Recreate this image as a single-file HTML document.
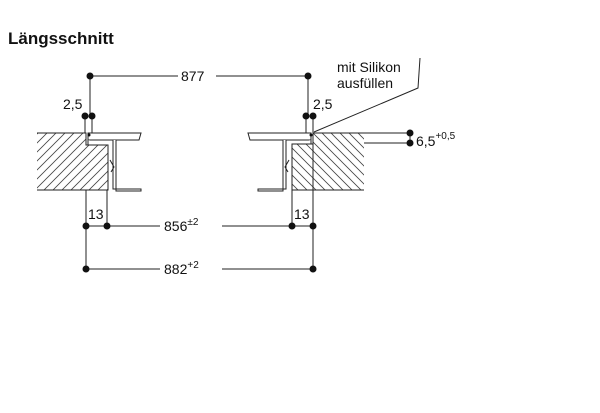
<!DOCTYPE html>
<html><head><style>body{margin:0;background:#fff}svg{display:block}text{font-family:"Liberation Sans",sans-serif;fill:#111}</style></head><body>
<svg width="600" height="413" viewBox="0 0 600 413" xmlns="http://www.w3.org/2000/svg">
<defs>
<pattern id="hl" width="9" height="9" patternUnits="userSpaceOnUse"><path d="M0 9 L9 0 M-2 2 L2 -2 M7 11 L11 7" stroke="#444" stroke-width="0.8"/></pattern>
<pattern id="hr" width="9" height="9" patternUnits="userSpaceOnUse"><path d="M0 0 L9 9 M-2 7 L2 11 M7 -2 L11 2" stroke="#444" stroke-width="0.8"/></pattern>
</defs>
<text x="8" y="44" font-size="17" font-weight="bold">Längsschnitt</text>
<g stroke="#222" stroke-width="1" fill="none">
<path d="M37 133 H86 V145 H108 V190 H37" fill="url(#hl)"/>
<path d="M37 133 H86 V145 H108 V190 H37"/>
<path d="M88 133 H141 L139 140 H88 Z" fill="#fff"/>
<path d="M88 140 V145 H108 M113 140 V189 H141 V191 H116 V140" fill="#fff"/>
<path d="M110 160 L114 167 L111 172"/>
<path d="M364 133 H313 V144 H292 V190 H364" fill="url(#hr)"/>
<path d="M364 133 H313 V144 H292 V190 H364"/>
<path d="M311 133 H248 L250 140 H311 Z" fill="#fff"/>
<path d="M311 140 V144 H292 M286 140 V189 H258 V191 H283 V140" fill="#fff"/>
<path d="M289 160 L285 167 L288 172"/>
<path d="M90 76 H178 M216 76 H308 M90 76 V116 M308 76 V116 M85 116 V133 M92 116 V133 M306 116 V133 M313 116 V133"/>
<path d="M86 190 V269 M107 190 V226 M292 190 V226 M313 140 V269"/>
<path d="M86 226 H160 M222 226 H313 M86 269 H160 M222 269 H313"/>
<path d="M364 133 H410 M364 143 H410 M410 133 V143"/>
<path d="M314 132 L418 88 L420 58"/>
</g>
<g fill="#111">
<circle cx="90" cy="76" r="3.5"/><circle cx="308" cy="76" r="3.5"/>
<circle cx="85" cy="116" r="3.5"/><circle cx="92" cy="116" r="3.5"/>
<circle cx="306" cy="116" r="3.5"/><circle cx="313" cy="116" r="3.5"/>
<circle cx="86" cy="226" r="3.5"/><circle cx="107" cy="226" r="3.5"/>
<circle cx="292" cy="226" r="3.5"/><circle cx="313" cy="226" r="3.5"/>
<circle cx="86" cy="269" r="3.5"/><circle cx="313" cy="269" r="3.5"/>
<circle cx="410" cy="133" r="3.5"/><circle cx="410" cy="143" r="3.5"/>
<circle cx="311" cy="135" r="1.5"/><circle cx="89" cy="135" r="1.5"/>
</g>
<g font-size="14">
<text x="181" y="81">877</text>
<text x="63" y="109">2,5</text>
<text x="313" y="109">2,5</text>
<text x="88" y="219">13</text>
<text x="294" y="219">13</text>
<text x="164" y="231">856<tspan font-size="10" dy="-6">±2</tspan></text>
<text x="164" y="274">882<tspan font-size="10" dy="-6">+2</tspan></text>
<text x="416" y="146">6,5<tspan font-size="10" dy="-7">+0,5</tspan></text>
<text x="337" y="72">mit Silikon</text>
<text x="337" y="88">ausfüllen</text>
</g>
</svg>
</body></html>
